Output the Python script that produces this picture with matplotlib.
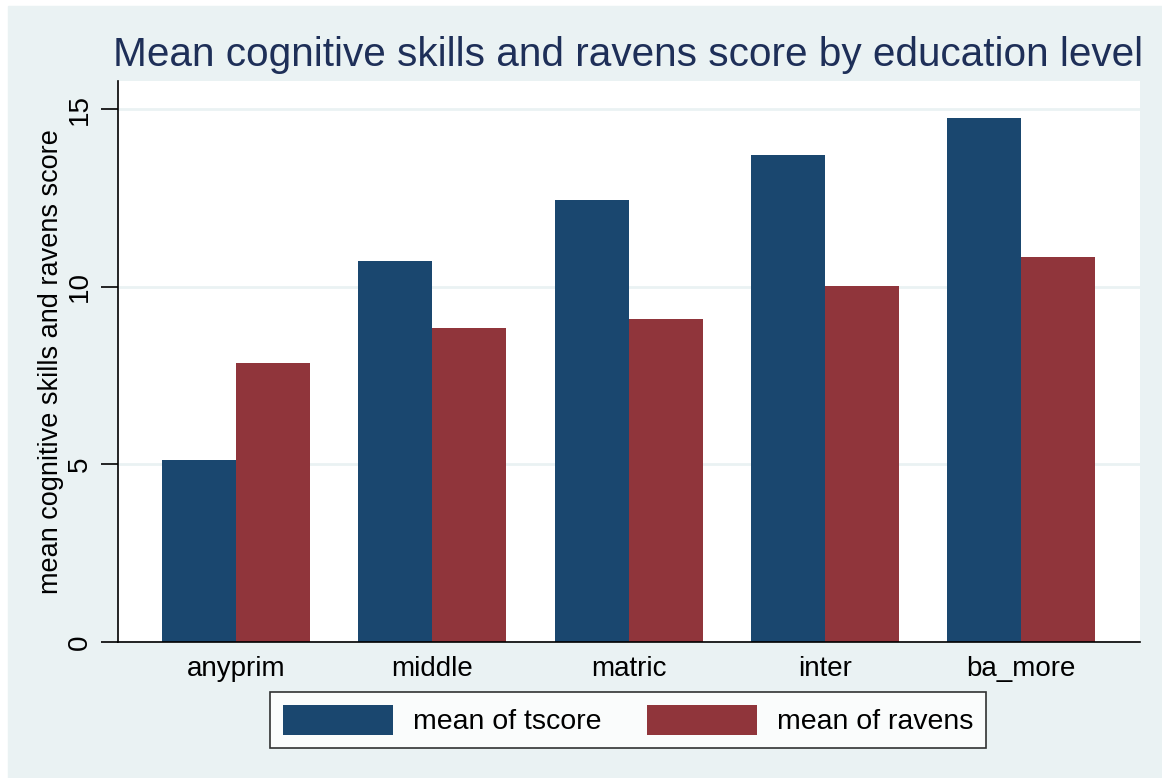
import numpy as np
import matplotlib.pyplot as plt
from matplotlib.patches import Rectangle

# Dữ liệu
categories = ["anyprim", "middle", "matric", "inter", "ba_more"]
tscore = [5.12, 10.72, 12.44, 13.71, 14.75]
ravens = [7.85, 8.84, 9.09, 10.02, 10.84]
yticks = [0, 5, 10, 15]

plt.rcParams['font.family'] = ['Liberation Sans', 'DejaVu Sans']

W, H = 1162, 778
fig = plt.figure(figsize=(W / 100, H / 100), dpi=100)
fig.patch.set_facecolor("white")
# nền kiểu Stata
fig.patches.append(Rectangle((8 / W, 0), 1 - 8 / W, 1 - 6 / H,
                             transform=fig.transFigure, color="#EAF2F3", zorder=-1))

ax = fig.add_axes([118 / W, 1 - 642 / H, (1140 - 118) / W, (642 - 81) / H])
ax.set_facecolor("white")

x = np.arange(len(categories))
w = 0.377
ax.bar(x - w / 2, tscore, w, color="#1A476F", label="mean of tscore", zorder=2)
ax.bar(x + w / 2, ravens, w, color="#90353B", label="mean of ravens", zorder=2)

ax.set_xlim(-0.601, 4.606)
ax.set_ylim(0, 15.79)
ax.set_yticks(yticks)
ax.set_yticklabels([str(v) for v in yticks], rotation=90, va="center", fontsize=20)
ax.grid(axis="y", color="#EAF2F3", linewidth=2, zorder=0)
ax.set_xticks(x)
ax.set_xticklabels(categories, fontsize=20)
ax.tick_params(axis="x", length=0, pad=10)
ax.tick_params(axis="y", length=12, width=1.2, pad=6)

for s in ["top", "right"]:
    ax.spines[s].set_visible(False)
ax.spines["left"].set_linewidth(1.2)
ax.spines["bottom"].set_linewidth(1.2)

ax.set_ylabel("mean cognitive skills and ravens score", fontsize=19.5, labelpad=2)
fig.text(628 / W, 1 - 55 / H, "Mean cognitive skills and ravens score by education level",
         ha="center", va="center", fontsize=29.2, color="#1E2F58")

leg = fig.legend(loc="center", bbox_to_anchor=(628 / W, 1 - 720 / H), ncol=2,
                 fontsize=20.5, frameon=True, fancybox=False, edgecolor="black",
                 handlelength=3.86, handleheight=1.25, columnspacing=1.6,
                 handletextpad=0.7, borderpad=0.45)
leg.get_frame().set_linewidth(1.2)

fig.savefig("out.png", dpi=100, facecolor=fig.get_facecolor())
